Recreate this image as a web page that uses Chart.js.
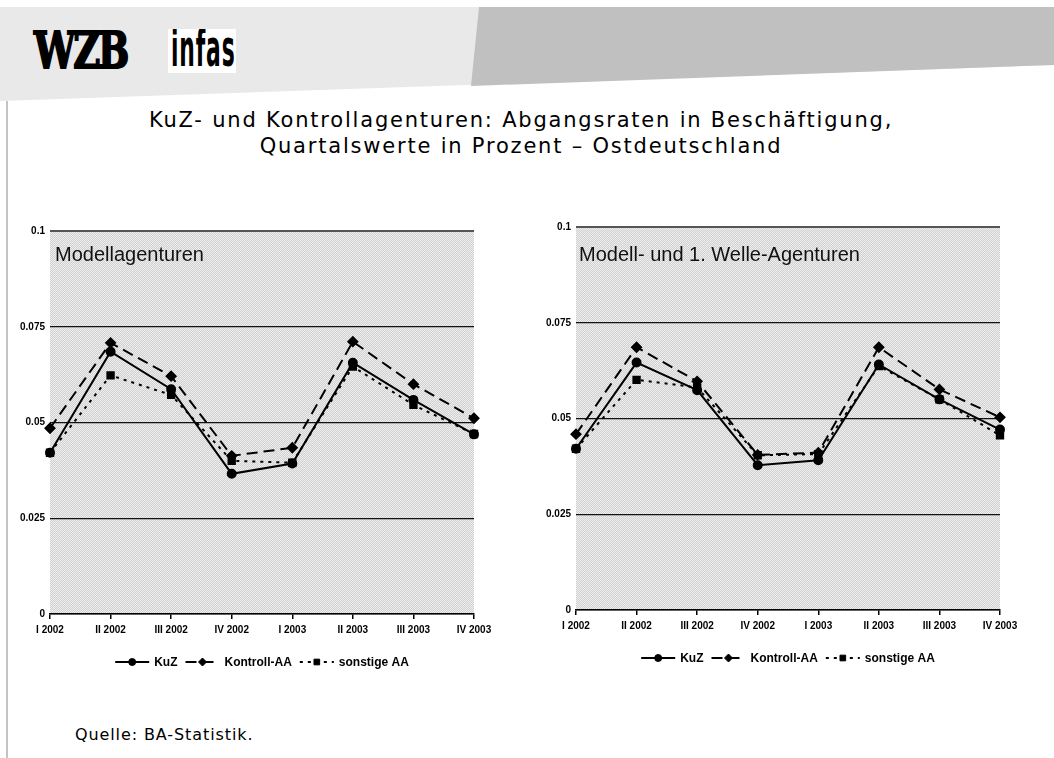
<!DOCTYPE html>
<html>
<head>
<meta charset="utf-8">
<script src="https://cdn.jsdelivr.net/npm/chart.js@4.4.1/dist/chart.umd.min.js"></script>
<style>
    html, body { margin: 0; padding: 0; background: #fff; }
    body { width: 1054px; height: 758px; position: relative; overflow: hidden; font-family: 'DejaVu Sans', sans-serif; }
    .band { position: absolute; left: 0; top: 0; width: 1054px; height: 110px; }
    .band-light { background: #e9e9e9; clip-path: polygon(0 7px, 1054px 7px, 1054px 65px, 0 101px); }
    .band-dark { background: #c0c0c0; clip-path: polygon(479px 7px, 1054px 7px, 1054px 65px, 471px 86px); }
    .frame { position: absolute; left: 6px; top: 101px; width: 2px; height: 657px; background: #c4c4c4; }
    .wzb { position: absolute; left: 34px; top: 21px; font-family: 'DejaVu Serif', serif; font-weight: bold; font-size: 50px;
           transform: scaleX(0.74); transform-origin: left top; letter-spacing: -3px; color: #000;
           -webkit-text-stroke: 2px #000; }
    .infas { position: absolute; left: 168px; top: 29px; width: 68px; height: 44px; background: #fff; overflow: hidden; }
    .infas span { position: absolute; left: 3px; top: -11px; font-family: 'DejaVu Sans', sans-serif;
           font-weight: bold; font-size: 52px; transform: scaleX(0.42); transform-origin: left top; color: #000; letter-spacing: 2px; }
    .title { position: absolute; left: 0; width: 1042px; text-align: center; font-size: 21px; letter-spacing: 1.8px; color: #000; }
    .panel-label { position: absolute; font-family: 'Liberation Sans', Arial, sans-serif; font-size: 20px; color: #111; }
    .source { position: absolute; left: 75px; top: 725px; font-size: 16px; letter-spacing: 0.9px; color: #000; }
    canvas { position: absolute; }
</style>
</head>
<body>
<div class="band band-light"></div>
<div class="band band-dark"></div>
<div class="frame"></div>
<div class="wzb">WZB</div>
<div class="infas"><span>infas</span></div>
<div class="title" style="top:108px">KuZ- und Kontrollagenturen: Abgangsraten in Beschäftigung,</div>
<div class="title" style="top:134px">Quartalswerte in Prozent – Ostdeutschland</div>

<canvas id="chartModell" width="520" height="480" style="left:0;top:215px"></canvas>
<canvas id="chartWelle" width="520" height="480" style="left:526px;top:211px"></canvas>

<div class="panel-label" style="left:55px;top:243px">Modellagenturen</div>
<div class="panel-label" style="left:579px;top:243px">Modell- und 1. Welle-Agenturen</div>
<div class="source">Quelle: BA-Statistik.</div>

<script>
// Daten
const quarters = ['I 2002', 'II 2002', 'III 2002', 'IV 2002', 'I 2003', 'II 2003', 'III 2003', 'IV 2003']
const yTicks = [0, 0.025, 0.05, 0.075, 0.1]

// Modellagenturen
const modellKuz = [0.0421, 0.0685, 0.0587, 0.0366, 0.0393, 0.0656, 0.0559, 0.0469]
const modellKontroll = [0.0485, 0.0708, 0.0621, 0.0413, 0.0434, 0.0711, 0.0600, 0.0511]
const modellSonstige = [0.0421, 0.0623, 0.0572, 0.0400, 0.0395, 0.0646, 0.0546, 0.0470]

// Modell- und 1. Welle-Agenturen
const welleKuz = [0.0421, 0.0646, 0.0574, 0.0378, 0.0391, 0.0641, 0.0550, 0.0471]
const welleKontroll = [0.0459, 0.0686, 0.0597, 0.0405, 0.0411, 0.0686, 0.0576, 0.0503]
const welleSonstige = [0.0421, 0.0601, 0.0581, 0.0404, 0.0407, 0.0637, 0.0550, 0.0456]

const tickFont = "'Liberation Sans', Arial, sans-serif"

// gepunkteter Hintergrund wie im Original
function makeStipple() {
    const c = document.createElement('canvas')
    c.width = 2
    c.height = 2
    const g = c.getContext('2d')
    g.fillStyle = '#eeeeee'
    g.fillRect(0, 0, 2, 2)
    g.fillStyle = '#d0d0d0'
    g.fillRect(0, 0, 1, 1)
    g.fillRect(1, 1, 1, 1)
    return c
}

const stipple = {
    id: 'stipple',
    beforeDraw(chart) {
        const { ctx, chartArea } = chart
        ctx.save()
        ctx.fillStyle = ctx.createPattern(makeStipple(), 'repeat')
        ctx.fillRect(chartArea.left, chartArea.top, chartArea.right - chartArea.left, chartArea.bottom - chartArea.top)
        ctx.restore()
    }
}

// Legende mit Linie + Marker
const lineLegend = {
    id: 'lineLegend',
    afterDraw(chart) {
        const { ctx, chartArea } = chart
        const y = chartArea.bottom + 48
        const sample = 34
        ctx.save()
        ctx.font = 'bold 12px ' + tickFont
        const items = chart.data.datasets.map(ds => ({ ds, w: sample + 5 + ctx.measureText(ds.label).width }))
        const total = items.reduce((sum, it) => sum + it.w, 0) + 8 * (items.length - 1)
        let x = (chartArea.left + chartArea.right) / 2 - total / 2
        items.forEach(it => {
            ctx.strokeStyle = '#000'
            ctx.lineWidth = 2
            ctx.setLineDash(it.ds.borderDash || [])
            ctx.beginPath()
            ctx.moveTo(x, y)
            ctx.lineTo(x + sample, y)
            ctx.stroke()
            ctx.setLineDash([])
            ctx.fillStyle = '#000'
            ctx.lineWidth = 1
            Chart.helpers.drawPoint(ctx, { pointStyle: it.ds.pointStyle, radius: it.ds.pointRadius - 0.5, borderWidth: 1, rotation: 0 }, x + sample / 2, y)
            ctx.textBaseline = 'middle'
            ctx.textAlign = 'left'
            ctx.fillText(it.ds.label, x + sample + 5, y + 1)
            x += it.w + 8
        })
        ctx.restore()
    }
}

function buildConfig(kuz, kontroll, sonstige) {
    const common = {
        borderColor: '#000',
        backgroundColor: '#000',
        pointBackgroundColor: '#000',
        pointBorderColor: '#000',
        borderWidth: 2,
        tension: 0
    }
    return {
        type: 'line',
        data: {
            labels: quarters,
            datasets: [
                { ...common, label: 'KuZ', data: kuz, pointStyle: 'circle', pointRadius: 4 },
                { ...common, label: 'Kontroll-AA', data: kontroll, borderDash: [11, 6], pointStyle: 'rectRot', pointRadius: 4.5 },
                { ...common, label: 'sonstige AA', data: sonstige, borderDash: [3, 5], pointStyle: 'rect', pointRadius: 4.5 }
            ]
        },
        options: {
            responsive: false,
            animation: false,
            layout: { padding: { top: 16, right: 46, bottom: 57, left: 0 } },
            plugins: {
                legend: { display: false },
                title: { display: false },
                tooltip: { enabled: false }
            },
            scales: {
                x: {
                    offset: false,
                    afterFit: (scale) => { scale.height = 24 },
                    grid: { drawOnChartArea: false, drawTicks: true, tickLength: 5, color: '#000', lineWidth: 1.5 },
                    border: { display: true, color: '#000', width: 1.5 },
                    ticks: {
                        color: '#000',
                        padding: 5,
                        maxRotation: 0,
                        autoSkip: false,
                        font: { family: tickFont, size: 10, weight: 'bold' }
                    }
                },
                y: {
                    min: 0,
                    max: 0.1,
                    afterFit: (scale) => { scale.width = 50 },
                    afterBuildTicks: (scale) => { scale.ticks = yTicks.map(v => ({ value: v })) },
                    grid: {
                        drawTicks: false,
                        color: (c) => c.tick.value === 0.1 ? '#555' : '#111',
                        lineWidth: (c) => c.tick.value === 0.1 ? 2 : 1.2
                    },
                    border: { display: false },
                    ticks: {
                        color: '#000',
                        padding: 5,
                        callback: (value) => String(+value.toFixed(3)),
                        font: { family: tickFont, size: 10, weight: 'bold' }
                    }
                }
            }
        },
        plugins: [stipple, lineLegend]
    }
}

new Chart(document.getElementById('chartModell'), buildConfig(modellKuz, modellKontroll, modellSonstige))
new Chart(document.getElementById('chartWelle'), buildConfig(welleKuz, welleKontroll, welleSonstige))
</script>
</body>
</html>
